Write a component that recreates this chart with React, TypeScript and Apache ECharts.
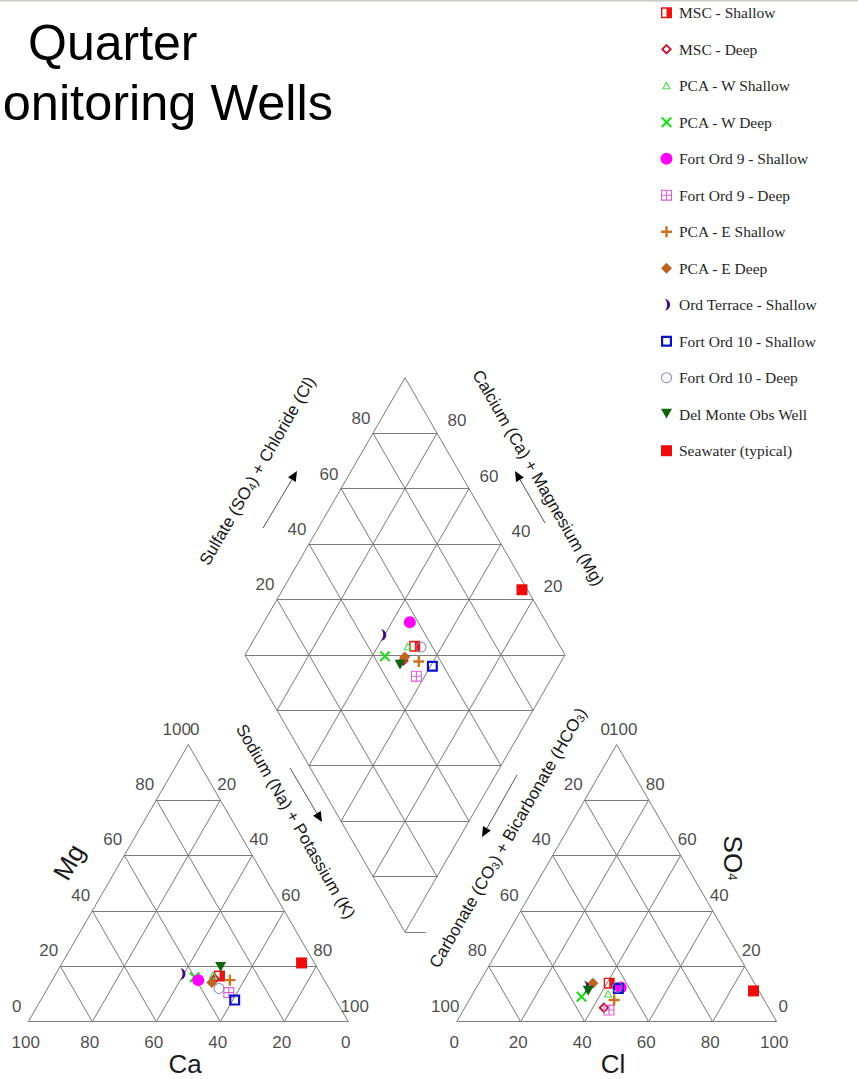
import { useEffect, useRef } from 'react';
import * as echarts from 'echarts';

// Sampled wells (legend order) and their major-ion make-up, in % of meq/L
const WELLS = [
  'MSC - Shallow',
  'MSC - Deep',
  'PCA - W Shallow',
  'PCA - W Deep',
  'Fort Ord 9 - Shallow',
  'Fort Ord 9 - Deep',
  'PCA - E Shallow',
  'PCA - E Deep',
  'Ord Terrace - Shallow',
  'Fort Ord 10 - Shallow',
  'Fort Ord 10 - Deep',
  'Del Monte Obs Well',
  'Seawater (typical)',
];
// cations
const CA = [32.0, 34.0, 33.8, 40.0, 39.4, 32.1, 29.5, 35.6, 43.2, 31.6, 34.4, 30.0, 4.0];
const MG = [16.5, 15.5, 16.9, 16.0, 15.0, 10.5, 15.0, 14.1, 17.2, 7.8, 12.0, 19.8, 21.2];
const NA_K = [51.5, 50.5, 49.3, 44.0, 45.6, 57.4, 55.5, 50.3, 39.6, 60.6, 53.6, 50.2, 74.8];
// anions
const HCO3 = [45.4, 51.5, 47.6, 56.5, 42.6, 50.3, 46.9, 50.5, 53.2, 43.5, 43.6, 53.3, 1.7];
const SO4 = [13.9, 5.0, 10.2, 9.0, 12.3, 4.2, 7.8, 13.9, 12.6, 12.0, 12.4, 11.2, 11.1];
const CL = [40.7, 43.5, 42.2, 34.5, 45.1, 45.5, 45.3, 35.6, 34.2, 44.5, 44.0, 35.5, 87.2];

const TICKS = [0, 20, 40, 60, 80, 100];
const INNER_TICKS = [20, 40, 60, 80];

// ---- marker shapes, each drawn inside a 10 x 10 box (holes wound the other way)
const SHAPES: Record<string, string> = {
  halfSquare: 'M0 0H10V10H0Z M1.3 1.3V8.7H5V1.3Z',
  hollowDiamond: 'M5 0L10 5L5 10L0 5Z M5 2.4L2.4 5L5 7.6L7.6 5Z',
  hollowTriangle: 'M5 0L10 9L0 9Z M5 2.6L2.1 7.9L7.9 7.9Z',
  cross: 'M0 1.4L1.4 0L5 3.6L8.6 0L10 1.4L6.4 5L10 8.6L8.6 10L5 6.4L1.4 10L0 8.6L3.6 5Z',
  dot: 'M5 0A5 5 0 1 1 5 10A5 5 0 1 1 5 0Z',
  gridSquare: 'M0 0H10V10H0Z M1 1V4.5H4.5V1Z M5.5 1V4.5H9V1Z M1 5.5V9H4.5V5.5Z M5.5 5.5V9H9V5.5Z',
  plus: 'M3.9 0H6.1V3.9H10V6.1H6.1V10H3.9V6.1H0V3.9H3.9Z',
  diamond: 'M5 0L10 5L5 10L0 5Z',
  crescent: 'M3 0A5 5 0 0 1 3 10A2.5 5 0 0 0 3 0Z',
  hollowSquare: 'M0 0H10V10H0Z M2 2V8H8V2Z',
  ring: 'M5 0A5 5 0 1 1 5 10A5 5 0 1 1 5 0Z M5 0.9A4.1 4.1 0 1 0 5 9.1A4.1 4.1 0 1 0 5 0.9Z',
  downTriangle: 'M0 0H10L5 9Z',
  square: 'M0 0H10V10H0Z',
};
Object.keys(SHAPES).forEach((k) => {
  echarts.graphic.registerShape('piper-' + k, echarts.graphic.extendPath(SHAPES[k], {}));
});

const MARKERS = [
  { shape: 'halfSquare', color: '#e81515', size: 11 },
  { shape: 'hollowDiamond', color: '#c8102e', size: 11 },
  { shape: 'hollowTriangle', color: '#4ddc4d', size: 9 },
  { shape: 'cross', color: '#1fdc1f', size: 11 },
  { shape: 'dot', color: '#ff00ff', size: 12 },
  { shape: 'gridSquare', color: '#d462d4', size: 11 },
  { shape: 'plus', color: '#c87420', size: 11 },
  { shape: 'diamond', color: '#bf6420', size: 11 },
  { shape: 'crescent', color: '#3c0a7c', size: 12 },
  { shape: 'hollowSquare', color: '#0a12c4', size: 11 },
  { shape: 'ring', color: '#8484b4', size: 11 },
  { shape: 'downTriangle', color: '#0b650b', size: 11 },
  { shape: 'square', color: '#ec0c0c', size: 11 },
];

// ---- layout: diagram units, one triangle side = 100 units
const CANVAS_W = 858;
const CANVAS_H = 1079;
const SCALE = 3.2; // px per unit
const ORIGIN_X = 28.3; // px of the cation triangle's 100 % Ca corner
const ORIGIN_Y = 1021.7;
const ANION_X = 133.875; // left corner of the anion triangle
const DIAMOND_X = 117.72; // bottom corner of the diamond
const DIAMOND_Y = 28.03;
const SQ3 = Math.sqrt(3) / 2;

const SANS = "'Liberation Sans', Arial, Helvetica, sans-serif";
const SERIF = "'Liberation Serif', 'Times New Roman', serif";
const GRID_COLOR = '#7a7a7a';
const INK = '#1a1a1a';

const cationXY = (mg: number, na: number) => [na + mg / 2, mg * SQ3];
const anionXY = (so4: number, cl: number) => [ANION_X + cl + so4 / 2, so4 * SQ3];
const diamondXY = (na: number, an: number) => [
  DIAMOND_X + (an + na - 100) / 2,
  DIAMOND_Y + (100 - na + an) * SQ3,
];

function triangleSegments(xy: (top: number, right: number) => number[]) {
  const segs: number[][][] = [];
  TICKS.slice(0, -1).forEach((k) => {
    segs.push([xy(k, 0), xy(k, 100 - k)]);
    segs.push([xy(0, k), xy(100 - k, k)]);
    segs.push([xy(0, 100 - k), xy(100 - k, 0)]);
  });
  return segs;
}

function diamondSegments() {
  const segs: number[][][] = [];
  TICKS.forEach((k) => {
    segs.push([diamondXY(k, 0), diamondXY(k, 100)]);
    segs.push([diamondXY(0, k), diamondXY(100, k)]);
  });
  for (let m = 20; m < 200; m += 20) {
    if (m <= 100) segs.push([diamondXY(100 - m, 0), diamondXY(100, m)]);
    else segs.push([diamondXY(0, m - 100), diamondXY(200 - m, 100)]);
  }
  // short stub at the lower corner
  segs.push([diamondXY(100, 0), [DIAMOND_X + 6.5, DIAMOND_Y]]);
  return segs;
}

function tickItems() {
  const items: any[] = [];
  const add = (pos: number[], text: number, offset: number[]) =>
    items.push({ name: String(text), value: pos, label: { offset } });
  TICKS.forEach((k) => {
    add(cationXY(k, 0), k, [-11.5, -15.5]); // Mg, left edge
    add(cationXY(100 - k, k), k, [6.5, -15.5]); // Na + K, right edge
    add(cationXY(0, 100 - k), k, [-2.5, 21]); // Ca, base
    add(anionXY(100 - k, 0), k, [-11.5, -15.5]); // CO3 + HCO3, left edge
    add(anionXY(k, 100 - k), k, [6.5, -15.5]); // SO4, right edge
    add(anionXY(0, k), k, [-2.5, 21]); // Cl, base
  });
  INNER_TICKS.forEach((k) => {
    add(diamondXY(0, k), k, [-12, -14.5]); // SO4 + Cl
    add(diamondXY(100 - k, 100), k, [20, -12.5]); // Ca + Mg
  });
  return items;
}

function wellPoints(i: number) {
  const cat = CA[i] + MG[i] + NA_K[i];
  const an = HCO3[i] + SO4[i] + CL[i];
  const mg = (MG[i] / cat) * 100;
  const na = (NA_K[i] / cat) * 100;
  const so4 = (SO4[i] / an) * 100;
  const cl = (CL[i] / an) * 100;
  return [cationXY(mg, na), anionXY(so4, cl), diamondXY(na, so4 + cl)];
}

function arrow(x1: number, y1: number, x2: number, y2: number) {
  const len = Math.hypot(x2 - x1, y2 - y1);
  const ux = (x2 - x1) / len;
  const uy = (y2 - y1) / len;
  const hl = 10;
  const hw = 4.5;
  const bx = x2 - ux * hl;
  const by = y2 - uy * hl;
  return [
    { type: 'line', shape: { x1, y1, x2: bx, y2: by }, style: { stroke: '#555', lineWidth: 1 } },
    {
      type: 'polygon',
      shape: { points: [[x2, y2], [bx - uy * hw, by + ux * hw], [bx + uy * hw, by - ux * hw]] },
      style: { fill: '#000' },
    },
  ];
}

function axisTitle(text: string, x: number, y: number, rotation: number, fontSize = 17) {
  return {
    type: 'text',
    x,
    y,
    rotation,
    style: {
      text,
      fontSize,
      fontFamily: SANS,
      fill: INK,
      align: 'center',
      verticalAlign: 'middle',
      rich: {
        s: { fontSize: 11, fontFamily: SANS, fill: INK, verticalAlign: 'bottom' },
        m: { fontSize: 13, fontFamily: SANS, fill: INK, verticalAlign: 'middle' },
      },
    },
  };
}

function legendGraphics() {
  const out: any[] = [];
  WELLS.forEach((name, i) => {
    const cy = 12.7 + 36.5 * i;
    const m = MARKERS[i];
    const s = m.size / 10;
    out.push({
      type: 'piper-' + m.shape,
      x: 666.5 - 5 * s,
      y: cy - 5 * s,
      scaleX: s,
      scaleY: s,
      style: { fill: m.color },
    });
    out.push({
      type: 'text',
      x: 679,
      y: cy,
      style: { text: name, fontSize: 15.5, fontFamily: SERIF, fill: '#262626', verticalAlign: 'middle' },
    });
  });
  return out;
}

function buildOption() {
  const segments = [
    ...triangleSegments(cationXY),
    ...triangleSegments(anionXY),
    ...diamondSegments(),
  ];
  return {
    animation: false,
    backgroundColor: '#ffffff',
    grid: { left: 0, right: 0, top: 0, bottom: 0 },
    xAxis: {
      type: 'value',
      min: -ORIGIN_X / SCALE,
      max: (CANVAS_W - ORIGIN_X) / SCALE,
      show: false,
    },
    yAxis: {
      type: 'value',
      min: (ORIGIN_Y - CANVAS_H) / SCALE,
      max: ORIGIN_Y / SCALE,
      show: false,
    },
    series: [
      {
        type: 'lines',
        coordinateSystem: 'cartesian2d',
        silent: true,
        z: 1,
        lineStyle: { color: GRID_COLOR, width: 1, opacity: 1 },
        data: segments.map((coords) => ({ coords })),
      },
      ...WELLS.map((name, i) => ({
        type: 'scatter',
        name,
        silent: true,
        z: 2,
        symbol: 'path://' + SHAPES[MARKERS[i].shape],
        symbolSize: MARKERS[i].size,
        symbolKeepAspect: true,
        itemStyle: { color: MARKERS[i].color, opacity: 1 },
        data: wellPoints(i),
      })),
      {
        type: 'scatter',
        name: 'ticks',
        silent: true,
        z: 3,
        symbolSize: 1,
        itemStyle: { color: 'rgba(0,0,0,0)' },
        label: {
          show: true,
          position: 'inside',
          formatter: '{b}',
          fontSize: 17,
          fontFamily: SANS,
          color: INK,
        },
        data: tickItems(),
      },
    ],
    graphic: [
      { type: 'rect', shape: { x: 0, y: 0, width: CANVAS_W, height: 1.5 }, style: { fill: '#c9c9c2' } },
      {
        type: 'text',
        x: 197.5,
        y: 42.7,
        style: { text: 'Quarter', fontSize: 50, fontFamily: SANS, fill: '#000', align: 'right', verticalAlign: 'middle' },
      },
      {
        type: 'text',
        x: 333,
        y: 102.7,
        style: { text: 'onitoring Wells', fontSize: 50.5, fontFamily: SANS, fill: '#000', align: 'right', verticalAlign: 'middle' },
      },
      axisTitle('Sulfate (SO{s|4}) + Chloride (Cl)', 257.5, 471, Math.PI / 3),
      axisTitle('Calcium (Ca) + Magnesium (Mg)', 538, 478, -Math.PI / 3),
      axisTitle('Sodium (Na) + Potassium (K)', 295.5, 821.5, -Math.PI / 3),
      axisTitle('Carbonate (CO{s|3}) + Bicarbonate (HCO{s|3})', 508, 838, Math.PI / 3),
      axisTitle('Mg', 69, 862, Math.PI / 3, 26),
      axisTitle('Ca', 185, 1064, 0, 26),
      axisTitle('Cl', 613, 1064, 0, 26),
      axisTitle('SO{m|4}', 732.5, 858, -Math.PI / 2, 26),
      ...arrow(263, 528, 297, 471),
      ...arrow(545, 523, 515, 471),
      ...arrow(290, 768, 322, 822),
      ...arrow(517, 775, 482, 837),
      ...legendGraphics(),
    ],
  };
}

export default function App() {
  const ref = useRef<HTMLDivElement>(null);
  useEffect(() => {
    const chart = echarts.init(ref.current as HTMLDivElement, null, { renderer: 'svg' });
    chart.setOption(buildOption() as any);
    return () => chart.dispose();
  }, []);
  return (
    <div
      ref={ref}
      style={{ position: 'absolute', left: 0, top: 0, width: CANVAS_W, height: CANVAS_H, background: '#fff' }}
    />
  );
}
